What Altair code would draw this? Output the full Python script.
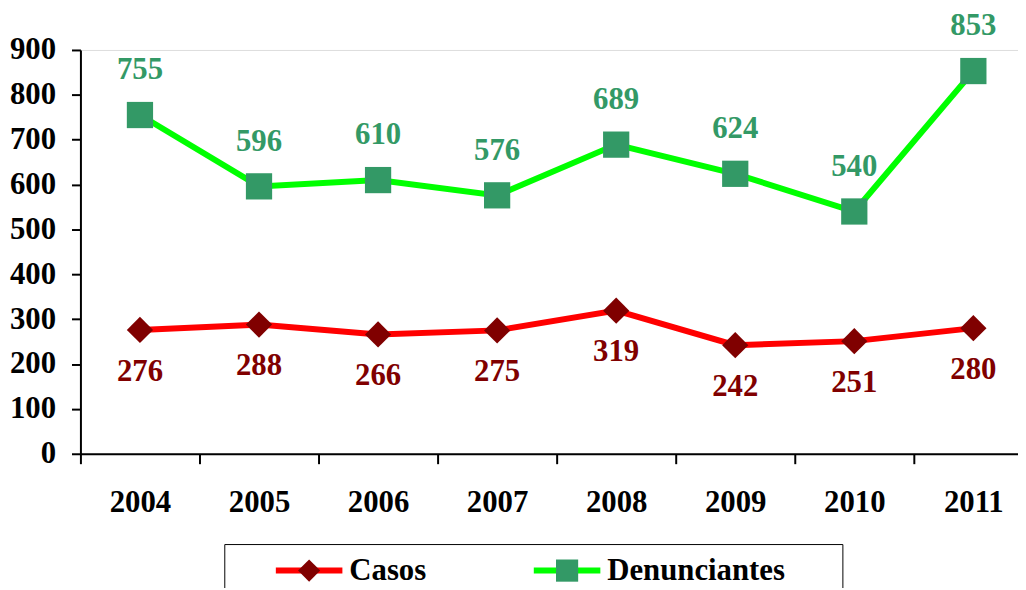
import altair as alt
import pandas as pd

years = ["2004", "2005", "2006", "2007", "2008", "2009", "2010", "2011"]
casos = [276, 288, 266, 275, 319, 242, 251, 280]
denunciantes = [755, 596, 610, 576, 689, 624, 540, 853]
series_names = ["Casos", "Denunciantes"]
line_colors = ["#FF0000", "#00FF00"]
marker_colors = ["#800000", "#339966"]
marker_shapes = ["diamond", "square"]
y_ticks = [0, 100, 200, 300, 400, 500, 600, 700, 800, 900]

rows = []
for name, vals in zip(series_names, [casos, denunciantes]):
    for yr, v in zip(years, vals):
        rows.append({"year": yr, "serie": name, "serie_m": name, "value": v})
df = pd.DataFrame(rows)

FONT = "Liberation Serif"
NBSP = "\u00a0"
ZWSP = "\u200b"

x_enc = alt.X(
    "year:O",
    sort=years,
    scale=alt.Scale(range=[0, 960], paddingInner=0, paddingOuter=0),
    axis=alt.Axis(
        title=None, labelAngle=0, labelFont=FONT, labelFontSize=31,
        labelFontWeight="bold", labelColor="black", domainColor="black",
        domainWidth=2, tickColor="black", tickWidth=2, tickSize=10,
        tickBand="extent", labelPadding=24, grid=False,
    ),
)
y_enc = alt.Y(
    "value:Q",
    scale=alt.Scale(domain=[0, 900], nice=False),
    axis=alt.Axis(
        title=None, values=y_ticks, labelFont=FONT, labelFontSize=31,
        labelFontWeight="bold", labelColor="black", domainColor="black",
        domainWidth=2, tickColor="black", tickWidth=2, tickSize=9,
        labelPadding=16, grid=False,
    ),
)

label_expr = ("datum.label == 'Denunciantes' ? datum.label + '"
              + NBSP * 6 + ZWSP + "' : datum.label")

common_legend = dict(
    orient="none", legendX=145, legendY=498, direction="horizontal",
    title=None, labelFont=FONT, labelFontSize=31, labelFontWeight="bold",
    labelColor="black", labelLimit=600, symbolSize=500, labelExpr=label_expr,
    padding=11, symbolOffset=59, labelOffset=25, columnPadding=67,
)

legend_line = alt.Legend(
    **common_legend,
    symbolType="M-3,0L3,0", symbolStrokeWidth=6, labelOpacity=0,
    strokeColor="black", zindex=0,
)
legend_marker = alt.Legend(
    **common_legend, symbolStrokeWidth=0, zindex=1,
)

base = alt.Chart(df)

lines = base.mark_line(strokeWidth=6).encode(
    x=x_enc, y=y_enc,
    color=alt.Color("serie:N", scale=alt.Scale(range=line_colors), legend=legend_line),
)

points = base.mark_point(filled=True, size=700, opacity=1, strokeWidth=0).encode(
    x=x_enc, y=y_enc,
    shape=alt.Shape("serie_m:N", scale=alt.Scale(range=marker_shapes), legend=legend_marker),
    fill=alt.Fill("serie_m:N", scale=alt.Scale(range=marker_colors), legend=legend_marker),
)

text_d = base.transform_filter(alt.datum.serie == "Denunciantes").mark_text(
    font=FONT, fontSize=31, fontWeight="bold", color=marker_colors[1],
    dy=-45, baseline="middle",
).encode(x=x_enc, y=y_enc, text="value:Q")

text_c = base.transform_filter(alt.datum.serie == "Casos").mark_text(
    font=FONT, fontSize=31, fontWeight="bold", color=marker_colors[0],
    dy=42, baseline="middle",
).encode(x=x_enc, y=y_enc, text="value:Q")

chart = alt.layer(lines, points, text_d, text_c).properties(
    width=945, height=407,
    padding={"left": 73, "top": 40, "right": 0, "bottom": 133},
    autosize=alt.AutoSizeParams(type="none"),
).configure_view(stroke=None).configure_legend(strokeWidth=2).configure(background="white")

chart.save("out.html", embed_options={"renderer": "svg", "actions": False})
